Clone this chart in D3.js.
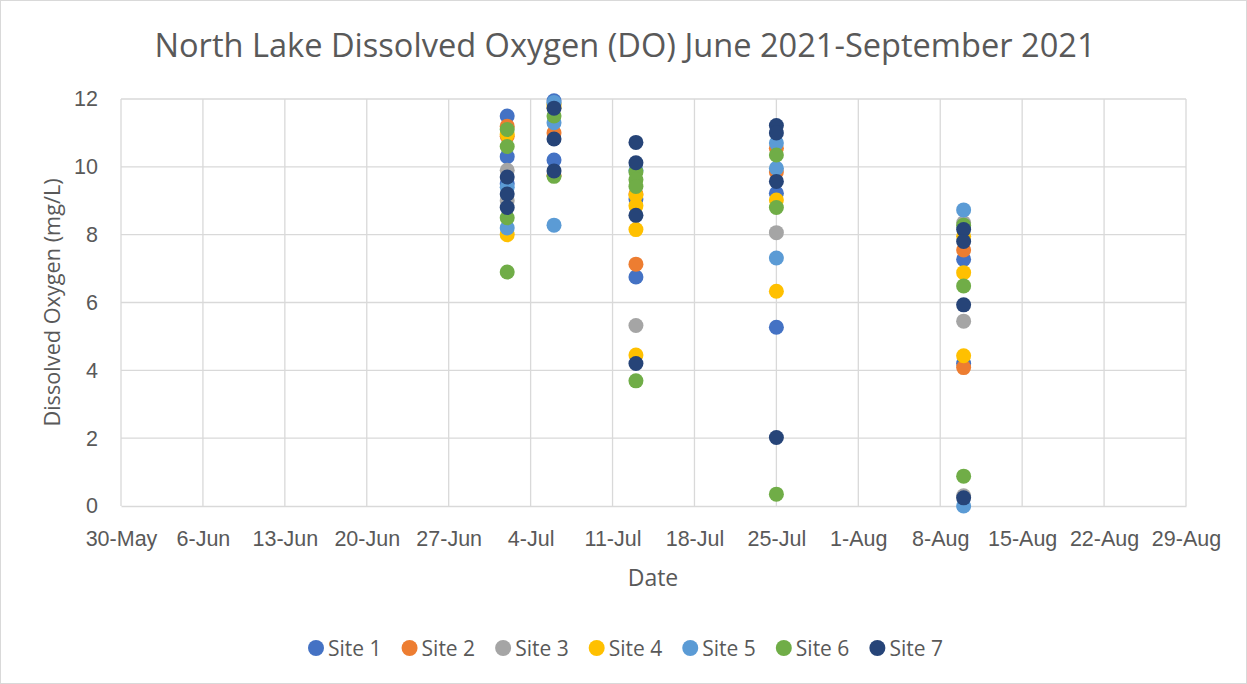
<!DOCTYPE html>
<html>
<head>
<meta charset="utf-8">
<script src="https://cdn.jsdelivr.net/npm/d3@7"></script>
<style>
  body { margin: 0; background: #fff; }
  svg { font-family: "Open Sans", "Noto Sans", sans-serif; }
</style>
</head>
<body>
<div id="chart"></div>
<script>
// sample dates, and readings for each site on each date (several depths)
const dates = ["2021-07-02", "2021-07-06", "2021-07-13", "2021-07-25", "2021-08-10"];
const siteNames = ["Site 1", "Site 2", "Site 3", "Site 4", "Site 5", "Site 6", "Site 7"];
const siteColors = ["#4472C4", "#ED7D31", "#A5A5A5", "#FFC000", "#5B9BD5", "#70AD47", "#264478"];

const site1 = [[11.5, 10.3, 9.5], [11.95, 10.2], [9.05, 6.75], [9.22, 5.27], [7.27, 4.2]];
const site2 = [[11.2, 10.9], [11.0, 9.75], [9.2, 7.13], [10.55, 9.85], [7.55, 4.08]];
const site3 = [[9.9, 9.0], [11.85], [5.32], [8.06], [8.35, 5.45, 0.3]];
const site4 = [[10.95, 8.0], [11.85, 11.75], [9.17, 8.85, 8.15, 4.45], [9.02, 6.33], [7.95, 6.88, 4.43]];
const site5 = [[9.4, 8.2], [11.9, 11.3, 8.28], [9.9], [10.7, 9.96, 7.31], [8.73, 0.0]];
const site6 = [[11.1, 10.6, 8.5, 6.9], [11.5, 9.72], [9.85, 9.62, 9.42, 3.69], [10.35, 8.8, 0.35], [8.28, 6.49, 0.88]];
const site7 = [[9.7, 9.2, 8.8], [11.73, 10.82, 9.88], [10.72, 10.12, 8.57, 4.2], [11.22, 11.0, 9.57, 2.02], [8.15, 7.8, 5.93, 0.24]];

const sites = [site1, site2, site3, site4, site5, site6, site7];
const yTicks = [0, 2, 4, 6, 8, 10, 12];

const width = 1247, height = 684;
const margin = {top: 99, right: 61, bottom: 178, left: 121};
const parse = d3.timeParse("%Y-%m-%d");

const svg = d3.select("#chart").append("svg")
    .attr("width", width)
    .attr("height", height);

svg.append("rect")
    .attr("x", 0.5).attr("y", 0.5)
    .attr("width", width - 1).attr("height", height - 1)
    .attr("fill", "#fff")
    .attr("stroke", "#d9d9d9");

const x = d3.scaleTime()
    .domain([parse("2021-05-30"), parse("2021-08-29")])
    .range([margin.left, width - margin.right]);

const y = d3.scaleLinear()
    .domain([0, 12])
    .range([height - margin.bottom, margin.top]);

const xTicks = d3.timeDay.range(parse("2021-05-30"), d3.timeDay.offset(parse("2021-08-29"), 1), 7);

// grid
svg.append("g")
    .selectAll("line")
    .data(yTicks.filter(d => d > 0))
    .join("line")
    .attr("x1", margin.left).attr("x2", width - margin.right)
    .attr("y1", d => y(d)).attr("y2", d => y(d))
    .attr("stroke", "#d9d9d9").attr("stroke-width", 1.3);

svg.append("g")
    .selectAll("line")
    .data(xTicks)
    .join("line")
    .attr("x1", d => x(d)).attr("x2", d => x(d))
    .attr("y1", y(0)).attr("y2", y(12))
    .attr("stroke", "#d9d9d9").attr("stroke-width", 1.3);

// axes
const xAxis = svg.append("g")
    .attr("transform", "translate(0," + y(0) + ")")
    .call(d3.axisBottom(x).tickValues(xTicks).tickFormat(d3.timeFormat("%-d-%b")).tickSize(0).tickPadding(25));
xAxis.select(".domain").attr("stroke", "#d9d9d9").attr("stroke-width", 1.3);
xAxis.selectAll("text").attr("font-size", 21.5).attr("fill", "#595959");

const yAxis = svg.append("g")
    .attr("transform", "translate(" + margin.left + ",0)")
    .call(d3.axisLeft(y).tickValues(yTicks).tickSize(0).tickPadding(23));
yAxis.select(".domain").remove();
yAxis.selectAll("text").attr("font-size", 21.5).attr("fill", "#595959");

// points
sites.forEach((site, i) => {
    const pts = [];
    site.forEach((vals, j) => vals.forEach(v => pts.push({date: parse(dates[j]), value: v})));
    svg.append("g")
        .selectAll("circle")
        .data(pts)
        .join("circle")
        .attr("cx", d => x(d.date))
        .attr("cy", d => y(d.value))
        .attr("r", 7.5)
        .attr("fill", siteColors[i]);
});

// titles
svg.append("text")
    .attr("x", 625).attr("y", 57)
    .attr("text-anchor", "middle")
    .attr("font-size", 32.6)
    .attr("fill", "#595959")
    .text("North Lake Dissolved Oxygen (DO) June 2021-September 2021");

svg.append("text")
    .attr("x", 653).attr("y", 586)
    .attr("text-anchor", "middle")
    .attr("font-size", 23)
    .attr("fill", "#595959")
    .text("Date");

svg.append("text")
    .attr("transform", "translate(60," + (y(6)) + ") rotate(-90)")
    .attr("text-anchor", "middle")
    .attr("font-size", 21.7)
    .attr("fill", "#595959")
    .text("Dissolved Oxygen (mg/L)");

// legend
const legend = svg.append("g");
let lx = 308;
siteNames.forEach((name, i) => {
    const g = legend.append("g").attr("transform", "translate(" + lx + ",648)");
    g.append("circle").attr("cx", 8).attr("cy", 0).attr("r", 8).attr("fill", siteColors[i]);
    const t = g.append("text")
        .attr("x", 20).attr("y", 7.5)
        .attr("font-size", 21)
        .attr("fill", "#595959")
        .text(name);
    lx += 20 + t.node().getComputedTextLength() + 20;
});
</script>
</body>
</html>
